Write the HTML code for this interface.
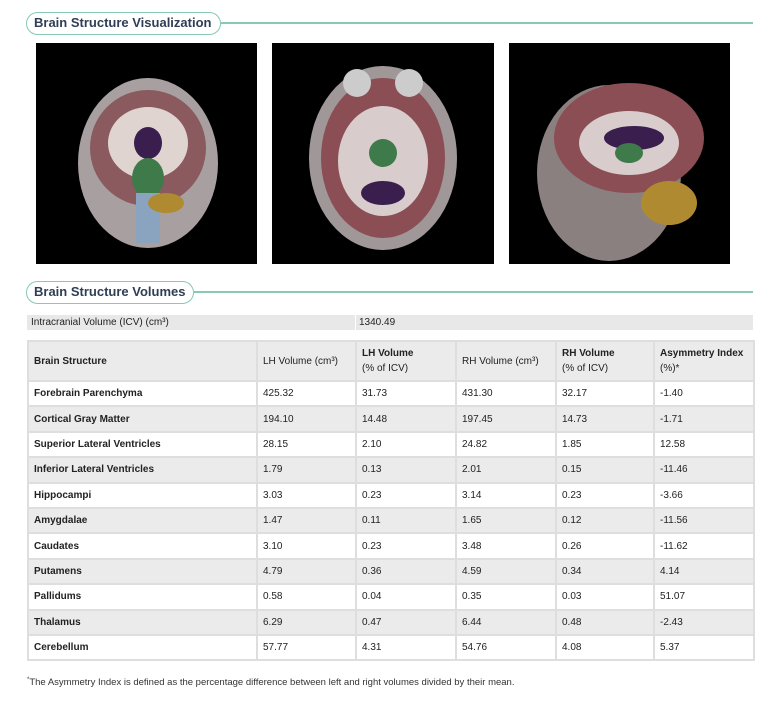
<!DOCTYPE html>
<html><head><meta charset="utf-8"><style>
body{margin:0;width:776px;height:710px;background:#fff;font-family:"Liberation Sans",sans-serif;color:#222;position:relative;overflow:hidden}
.pill{position:absolute;border:1.5px solid #86c9b4;border-radius:12px;font-size:13px;font-weight:bold;color:#2f3e55;padding:0 7px;height:23px;line-height:20px;box-sizing:border-box;background:#fff}
.line{position:absolute;height:1.5px;background:#86c9b4}
.img{position:absolute;background:#000;overflow:hidden}
table{position:absolute;border-collapse:collapse;font-size:10px;table-layout:fixed}
td{border:2px solid #dedede;padding:0 5px;vertical-align:middle}
tbody tr{height:25.4px}
tr.g td{background:#ebebeb}
td.n{font-weight:bold}
th{border:2px solid #dedede;background:#ebebeb;text-align:left;font-weight:bold;padding:0 5px;height:38px;font-size:10px;line-height:15px;vertical-align:middle}
th.l{font-weight:normal}
</style></head><body>
<div class="pill" style="left:26px;top:12px;width:195px">Brain Structure Visualization</div>
<div class="line" style="left:221px;top:22px;width:532px"></div>

<div class="img" style="left:36px;top:43px;width:221px;height:221px">
<svg width="221" height="221"><ellipse cx="112" cy="120" rx="70" ry="85" fill="#a8a0a0"/><ellipse cx="112" cy="105" rx="58" ry="58" fill="#8a5a5e"/><ellipse cx="112" cy="100" rx="40" ry="36" fill="#e0d4d0"/><ellipse cx="112" cy="100" rx="14" ry="16" fill="#3a1e4e"/><ellipse cx="112" cy="135" rx="16" ry="20" fill="#3e7a4a"/><rect x="100" y="150" width="24" height="50" fill="#8aa4c0"/><ellipse cx="130" cy="160" rx="18" ry="10" fill="#b08a30"/></svg></div>
<div class="img" style="left:272px;top:43px;width:222px;height:221px">
<svg width="222" height="221"><ellipse cx="111" cy="115" rx="74" ry="92" fill="#a09898"/><ellipse cx="111" cy="115" rx="62" ry="80" fill="#8a4e54"/><ellipse cx="111" cy="118" rx="45" ry="55" fill="#d8cccc"/><ellipse cx="111" cy="110" rx="14" ry="14" fill="#3e7a4a"/><ellipse cx="111" cy="150" rx="22" ry="12" fill="#3a1e4e"/><circle cx="85" cy="40" r="14" fill="#ccc"/><circle cx="137" cy="40" r="14" fill="#ccc"/></svg></div>
<div class="img" style="left:509px;top:43px;width:221px;height:221px">
<svg width="221" height="221"><ellipse cx="100" cy="130" rx="72" ry="88" fill="#8a8080"/><ellipse cx="120" cy="95" rx="75" ry="55" fill="#8a4e54"/><ellipse cx="120" cy="100" rx="50" ry="32" fill="#d8cccc"/><ellipse cx="125" cy="95" rx="30" ry="12" fill="#3a1e4e"/><ellipse cx="120" cy="110" rx="14" ry="10" fill="#3e7a4a"/><ellipse cx="160" cy="160" rx="28" ry="22" fill="#b08a30"/></svg></div>

<div class="pill" style="left:26px;top:281px;width:168px">Brain Structure Volumes</div>
<div class="line" style="left:194px;top:291px;width:559px"></div>

<div style="position:absolute;left:27px;top:315px;width:726px;height:15px;background:#e8e8e8;font-size:10px;line-height:15px">
<span style="position:absolute;left:4px">Intracranial Volume (ICV) (cm³)</span>
<span style="position:absolute;left:328px;top:0;height:15px;border-left:1px solid #fff"></span>
<span style="position:absolute;left:332px">1340.49</span></div>

<table style="left:27px;top:340px;width:726px">
<colgroup><col style="width:229px"><col style="width:99px"><col style="width:100px"><col style="width:100px"><col style="width:98px"><col style="width:100px"></colgroup>
<thead><tr><th>Brain Structure</th><th class="l">LH Volume (cm³)</th><th>LH Volume<br><span style="font-weight:normal">(% of ICV)</span></th><th class="l">RH Volume (cm³)</th><th>RH Volume<br><span style="font-weight:normal">(% of ICV)</span></th><th>Asymmetry Index<br><span style="font-weight:normal">(%)*</span></th></tr></thead>
<tbody id="tb"></tbody></table>

<div style="position:absolute;left:27px;top:677px;font-size:9.5px;color:#333"><sup style="font-size:6px">*</sup>The Asymmetry Index is defined as the percentage difference between left and right volumes divided by their mean.</div>

<script>
const structures=["Forebrain Parenchyma","Cortical Gray Matter","Superior Lateral Ventricles","Inferior Lateral Ventricles","Hippocampi","Amygdalae","Caudates","Putamens","Pallidums","Thalamus","Cerebellum"];
const lhVol=["425.32","194.10","28.15","1.79","3.03","1.47","3.10","4.79","0.58","6.29","57.77"];
const lhPct=["31.73","14.48","2.10","0.13","0.23","0.11","0.23","0.36","0.04","0.47","4.31"];
const rhVol=["431.30","197.45","24.82","2.01","3.14","1.65","3.48","4.59","0.35","6.44","54.76"];
const rhPct=["32.17","14.73","1.85","0.15","0.23","0.12","0.26","0.34","0.03","0.48","4.08"];
const asym=["-1.40","-1.71","12.58","-11.46","-3.66","-11.56","-11.62","4.14","51.07","-2.43","5.37"];
const tb=document.getElementById('tb');
structures.forEach((s,i)=>{
 const tr=document.createElement('tr');
 
 
 if(i%2===1)tr.className='g';
 [s,lhVol[i],lhPct[i],rhVol[i],rhPct[i],asym[i]].forEach((v,j)=>{
  const td=document.createElement('td');
  td.textContent=v;
  if(j===0)td.className='n';
  tr.appendChild(td);
 });
 tb.appendChild(tr);
});
</script>
</body></html>
